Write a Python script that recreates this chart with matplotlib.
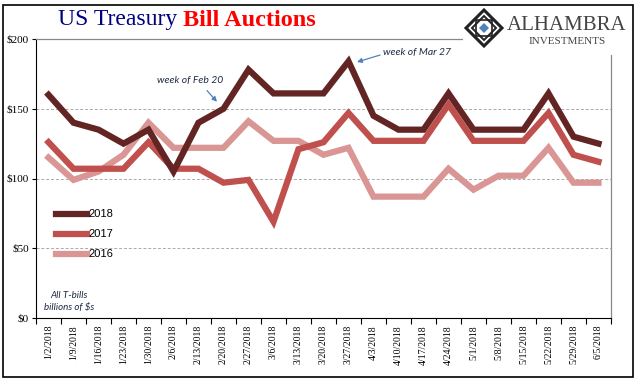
import matplotlib
matplotlib.use("Agg")
import matplotlib.pyplot as plt
from matplotlib.patches import Polygon, Rectangle
from matplotlib.lines import Line2D
import numpy as np

weeks = ["1/2/2018", "1/9/2018", "1/16/2018", "1/23/2018", "1/30/2018", "2/6/2018",
         "2/13/2018", "2/20/2018", "2/27/2018", "3/6/2018", "3/13/2018", "3/20/2018",
         "3/27/2018", "4/3/2018", "4/10/2018", "4/17/2018", "4/24/2018", "5/1/2018",
         "5/8/2018", "5/15/2018", "5/22/2018", "5/29/2018", "6/5/2018"]
y2018 = [160, 140, 135, 125, 135, 105, 140, 150, 178, 161, 161, 161,
         184, 145, 135, 135, 161, 135, 135, 135, 161, 130, 125]
y2017 = [126, 107, 107, 107, 126, 107, 107, 97, 99, 69, 121, 126,
         147, 127, 127, 127, 153, 127, 127, 127, 147, 117, 112]
y2016 = [115, 99, 105, 117, 140, 122, 122, 122, 141, 127, 127, 117,
         122, 87, 87, 87, 107, 92, 102, 102, 122, 97, 97]
yticks = [0, 50, 100, 150, 200]

C18, C17, C16 = "#632523", "#C0504D", "#D99694"
NOTE = "#1F2A44"
W, H = 641, 381

fig = plt.figure(figsize=(W / 100, H / 100), dpi=100)
ax = fig.add_axes([36 / W, 63 / H, 575 / W, 279 / H])

x = np.arange(len(weeks))
series = [(y2016, C16, "2016"), (y2017, C17, "2017"), (y2018, C18, "2018")]
for vals, col, lab in series:
    ax.plot(x, vals, color=col, lw=4.5, solid_joinstyle="miter", zorder=3)

ax.set_xlim(-0.5, len(weeks) - 0.5)
ax.set_ylim(0, 200)
ax.set_yticks(yticks)
ax.set_yticklabels([f"${v}" for v in yticks], family="Liberation Serif", fontsize=8)
ax.set_xticks(np.arange(len(weeks) + 1) - 0.5)
ax.set_xticklabels([""] * (len(weeks) + 1))
ax.tick_params(axis="x", length=4, direction="out", width=0.8)
ax.tick_params(axis="y", length=3, direction="out", width=0.8, pad=2)
for i, w in enumerate(weeks):
    ax.text(i, -5, w, rotation=90, ha="center", va="top", fontsize=7,
            family="Liberation Serif", clip_on=False)
for v in [50, 100, 150]:
    ax.axhline(v, color="#AAAAAA", lw=0.7, ls=(0, (3, 2)), zorder=0)

for s in ["top", "right"]:
    ax.spines[s].set_color("#888888")
    ax.spines[s].set_linewidth(0.9)

# legend
handles = [Line2D([], [], color=c, lw=4.5) for _, c, _ in series[::-1]]
labels = [l for _, _, l in series[::-1]]
ax.legend(handles, labels, loc="upper left", bbox_to_anchor=(0.027, 0.405),
          frameon=False, handlelength=2.8, handletextpad=0.1, labelspacing=0.9,
          borderaxespad=0, prop={"family": "Liberation Sans", "size": 8})

ax.text(0.058, 0.082, "All T-bills", transform=ax.transAxes, ha="center", va="center",
        style="italic", fontsize=7, family="Lato", color=NOTE)
ax.text(0.058, 0.039, "billions of $s", transform=ax.transAxes, ha="center", va="center",
        style="italic", fontsize=7, family="Lato", color=NOTE)

arrow = dict(arrowstyle="-|>", color="#4F81BD", lw=0.9, mutation_scale=7,
             shrinkA=0, shrinkB=0)
ax.text(5.66, 170, "week of Feb 20", fontsize=7.5, style="italic", family="Lato",
        ha="center", va="center", color=NOTE)
ax.annotate("", xy=(6.74, 155), xytext=(6.34, 163), arrowprops=arrow)
ax.text(14.74, 190, "week of Mar 27", fontsize=7.5, style="italic", family="Lato",
        ha="center", va="center", color=NOTE)
ax.annotate("", xy=(12.34, 183.5), xytext=(13.26, 188.5), arrowprops=arrow)

# title
t1 = fig.text(58 / W, 1 - 20 / H, "US Treasury", family="Liberation Serif", fontsize=17,
              color="#000080", va="center")
ax.annotate("Bill Auctions", xy=(1, 0.5), xycoords=t1, xytext=(4, 0),
            textcoords="offset points", va="center", family="Liberation Serif",
            fontsize=17.5, color="#FF0000", weight="bold", annotation_clip=False)

# logo (white box covers the top spine)
fig.patches.append(Rectangle((463 / W, 1 - 55 / H), 170 / W, 52 / H,
                             transform=fig.transFigure, facecolor="white",
                             edgecolor="none", zorder=5))


def diamond(cx, cy, rx, ry, **kw):
    pts = [(cx - rx, cy), (cx, cy + ry), (cx + rx, cy), (cx, cy - ry)]
    return Polygon([(px / W, 1 - py / H) for px, py in pts], closed=True,
                   transform=fig.transFigure, zorder=6, **kw)


cx, cy = 484, 28
fig.patches.append(diamond(cx, cy, 18, 18, facecolor="none", edgecolor="#222222", lw=2.2))
fig.patches.append(diamond(cx, cy, 12, 12, facecolor="none", edgecolor="#222222", lw=1.4))
fig.patches.append(Rectangle(((cx - 8) / W, 1 - (cy + 8) / H), 16 / W, 16 / H,
                             transform=fig.transFigure, facecolor="none",
                             edgecolor="#222222", lw=1.2, zorder=6))
fig.patches.append(diamond(cx, cy, 5, 5, facecolor="#4F81BD", edgecolor="none"))
fig.text(567 / W, 1 - 26 / H, "ALHAMBRA", family="Liberation Serif", fontsize=15,
         color="#444444", ha="center", va="center", zorder=7)
fig.text(567 / W, 1 - 42 / H, "INVESTMENTS", family="Liberation Serif", fontsize=8,
         color="#444444", ha="center", va="center", zorder=7)

# outer frame
fig.patches.append(Rectangle((3 / W, 4 / H), 630 / W, 372 / H,
                             transform=fig.transFigure, facecolor="none",
                             edgecolor="black", lw=1.2, zorder=8))

fig.savefig("out.png", dpi=100)
